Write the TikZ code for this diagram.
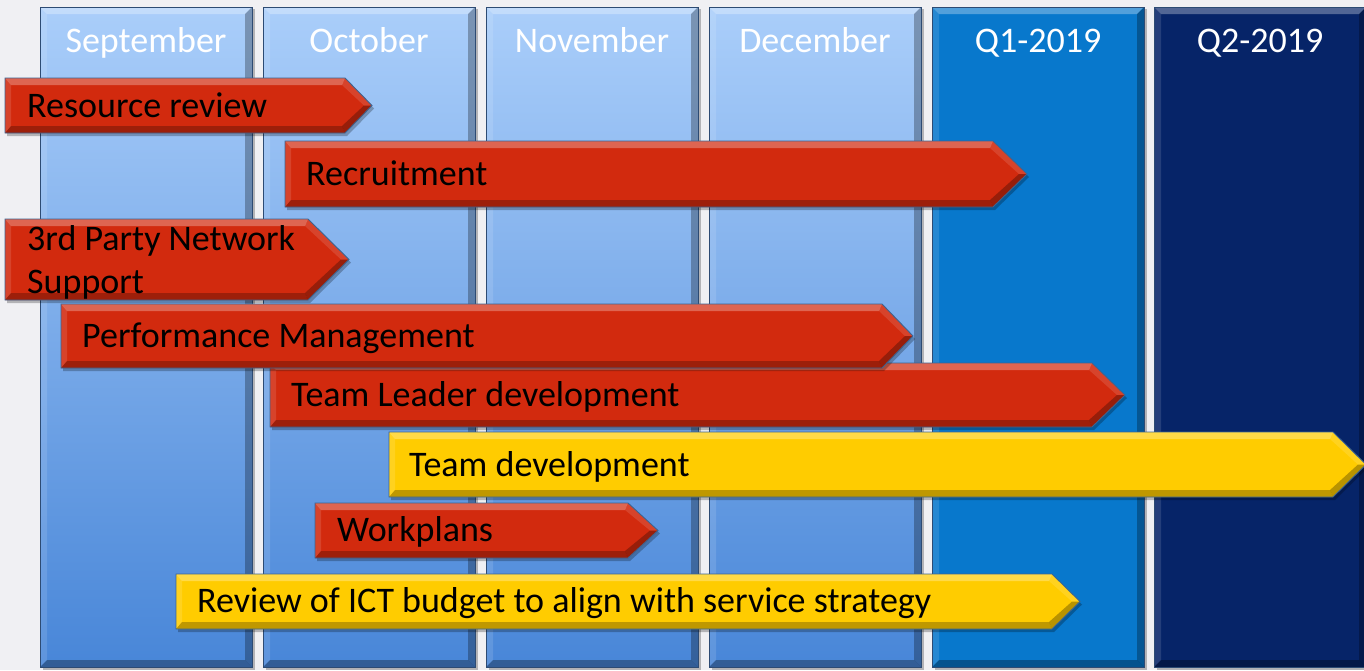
\documentclass[tikz,border=0pt]{standalone}
\usepackage{fontspec}
\setmainfont{Carlito}
\definecolor{bgc}{RGB}{240,240,243}
\definecolor{mtop}{RGB}{170,206,250}
\definecolor{mbot}{RGB}{72,134,216}
\definecolor{qone}{RGB}{8,120,204}
\definecolor{qtwo}{RGB}{6,36,104}
\definecolor{colline}{RGB}{45,75,115}
\definecolor{barline}{RGB}{60,100,145}
\definecolor{redbar}{RGB}{210,42,14}
\definecolor{yelbar}{RGB}{255,204,0}
\tikzset{
  hdr/.style={text=white, inner sep=0pt, anchor=base, font=\fontsize{36}{43}\selectfont},
  lbl/.style={text=black, inner sep=0pt, anchor=base west, font=\fontsize{36}{43}\selectfont},
}
% column: x-left, top colour, bottom colour
\newcommand\mycol[3]{%
  \fill[black, opacity=.25] ({#1+3},9) rectangle ({#1+215},670);
  \fill[top color=#2, bottom color=#3] (#1,7) rectangle ({#1+212},667);
  \fill[white, opacity=.30] (#1,7) -- ({#1+212},7) -- ({#1+205},14) -- ({#1+7},14) -- cycle;
  \fill[white, opacity=.12] (#1,7) -- ({#1+7},14) -- ({#1+7},660) -- (#1,667) -- cycle;
  \fill[black, opacity=.28] ({#1+212},7) -- ({#1+212},667) -- ({#1+205},660) -- ({#1+205},14) -- cycle;
  \fill[black, opacity=.30] (#1,667) -- ({#1+212},667) -- ({#1+205},660) -- ({#1+7},660) -- cycle;
  \draw[colline, line width=.8pt] (#1,7) rectangle ({#1+212},667);
}
% bar: x-left, tip start, tip, top, bottom, colour
\newcommand\mybar[6]{%
  \fill[black, opacity=.25] ({#1+2},{#4+3}) -- ({#2+2},{#4+3}) -- ({#3+2},{(#4+#5)/2+3}) -- ({#2+2},{#5+3}) -- ({#1+2},{#5+3}) -- cycle;
  \fill[#6] (#1,#4) -- (#2,#4) -- (#3,{(#4+#5)/2}) -- (#2,#5) -- (#1,#5) -- cycle;
  \fill[white, opacity=.28] (#1,#4) -- (#2,#4) -- ({#2-3},{#4+7}) -- ({#1+6},{#4+7}) -- cycle;
  \fill[white, opacity=.12] (#1,#4) -- ({#1+6},{#4+7}) -- ({#1+6},{#5-7}) -- (#1,#5) -- cycle;
  \fill[black, opacity=.25] (#1,#5) -- (#2,#5) -- ({#2-3},{#5-7}) -- ({#1+6},{#5-7}) -- cycle;
  \fill[white, opacity=.12] (#2,#4) -- (#3,{(#4+#5)/2}) -- ({#3-8},{(#4+#5)/2}) -- ({#2-3},{#4+7}) -- cycle;
  \fill[black, opacity=.28] (#2,#5) -- (#3,{(#4+#5)/2}) -- ({#3-8},{(#4+#5)/2}) -- ({#2-3},{#5-7}) -- cycle;
  \draw[barline, line width=.9pt, line join=miter] (#1,#4) -- (#2,#4) -- (#3,{(#4+#5)/2}) -- (#2,#5) -- (#1,#5) -- cycle;
}
\begin{document}
\begin{tikzpicture}[x=1pt,y=-1pt]
\useasboundingbox (0,0) rectangle (1364,670);
\fill[bgc] (0,0) rectangle (1364,670);

% columns
\mycol{40}{mtop}{mbot}
\mycol{263}{mtop}{mbot}
\mycol{486}{mtop}{mbot}
\mycol{709}{mtop}{mbot}
\mycol{932}{qone}{qone}
\mycol{1154}{qtwo}{qtwo}

\node[hdr] (h1) at (146,52) {September};
\node[hdr] (h2) at (369,52) {October};
\node[hdr] (h3) at (592,52) {November};
\node[hdr] (h4) at (815,52) {December};
\node[hdr] (h5) at (1038,52) {Q1-2019};
\node[hdr] (h6) at (1260,52) {Q2-2019};

% bars (bottom to top so upper bars overlap lower ones)
\mybar{176}{1052}{1080}{574}{629}{yelbar}
\node[lbl] (t8) at (197,612) {Review of ICT budget to align with service strategy};

\mybar{315}{628}{658}{503}{558}{redbar}
\node[lbl] (t7) at (337,541) {Workplans};

\mybar{389}{1333}{1366}{432}{497}{yelbar}
\node[lbl] (t6) at (409,476) {Team development};

\mybar{270}{1092}{1125}{363}{427}{redbar}
\node[lbl] (t5) at (291,406) {Team Leader development};

\mybar{61}{882}{913}{304}{368}{redbar}
\node[lbl] (t4) at (82,347) {Performance Management};

\mybar{5}{308}{349}{219}{300}{redbar}
\node[lbl] (t3a) at (27,250) {3rd Party Network};
\node[lbl] (t3b) at (27,293) {Support};

\mybar{285}{993}{1027}{141}{207}{redbar}
\node[lbl] (t2) at (306,185) {Recruitment};

\mybar{5}{345}{372}{78}{133}{redbar}
\node[lbl] (t1) at (27,117) {Resource review};
\end{tikzpicture}
\end{document}
